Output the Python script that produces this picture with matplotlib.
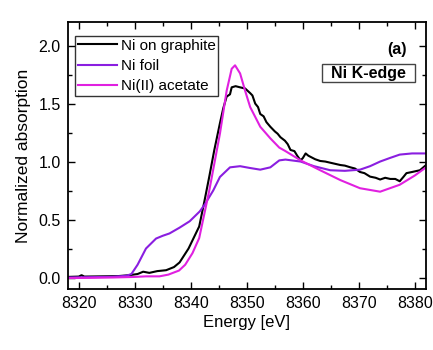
import numpy as np
import matplotlib.pyplot as plt
from matplotlib.patches import Rectangle

plt.rcParams['font.family'] = ['Liberation Sans', 'DejaVu Sans']

# energies (eV) and normalized absorption
e_graphite = [8318, 8320, 8320.5, 8321, 8324, 8327, 8329, 8330.5, 8331.5, 8332.6,
              8334, 8335.6, 8337, 8338, 8338.8, 8339.6, 8340.3, 8341.5, 8342.4,
              8343.3, 8344.2, 8345.2, 8345.8, 8346.4, 8347.0, 8347.3, 8348.0,
              8348.8, 8349.7, 8350.6, 8351.0, 8351.5, 8352.0, 8352.4, 8353.0,
              8353.5, 8354.2, 8355.0, 8355.5, 8356.0, 8356.8, 8357.3, 8357.8,
              8358.5, 8359.0, 8359.6, 8360.0, 8360.5, 8361.0, 8361.4, 8362.2,
              8363.1, 8364.0, 8364.9, 8365.8, 8366.7, 8367.5, 8368.5, 8369.3,
              8370.2, 8371.0, 8372.0, 8373.0, 8373.8, 8374.7, 8375.6, 8376.5,
              8377.3, 8378.0, 8378.5, 8379.5, 8380.9, 8382]
a_graphite = [0.005, 0.008, 0.02, 0.008, 0.01, 0.012, 0.02, 0.03, 0.05, 0.04,
              0.055, 0.063, 0.09, 0.13, 0.19, 0.25, 0.32, 0.44, 0.65,
              0.87, 1.1, 1.33, 1.46, 1.56, 1.58, 1.64, 1.65,
              1.64, 1.63, 1.59, 1.57, 1.50, 1.47, 1.41, 1.39,
              1.34, 1.30, 1.26, 1.24, 1.21, 1.18, 1.15, 1.10,
              1.09, 1.05, 1.01, 1.03, 1.07, 1.05, 1.04, 1.02,
              1.005, 1.00, 0.99, 0.98, 0.97, 0.965, 0.95, 0.94,
              0.91, 0.90, 0.87, 0.86, 0.845, 0.86, 0.85, 0.85,
              0.83, 0.87, 0.90, 0.91, 0.925, 0.97]

e_foil = [8318, 8322, 8326, 8328.5, 8329.4, 8330.5, 8332, 8333.8, 8335, 8336.2,
          8338, 8339.8, 8341.6, 8342.5, 8344, 8345.2, 8347, 8348.8, 8350.5,
          8352.4, 8354.2, 8355.8, 8356.9, 8359.6, 8362, 8364.9, 8367.5,
          8370.2, 8372, 8373.8, 8375.5, 8377.3, 8379.5, 8382]
a_foil = [0.0, 0.003, 0.006, 0.015, 0.03, 0.11, 0.25, 0.336, 0.36, 0.38,
          0.43, 0.485, 0.57, 0.63, 0.75, 0.867, 0.95, 0.96, 0.945,
          0.93, 0.95, 1.01, 1.017, 1.0, 0.96, 0.925, 0.92,
          0.93, 0.96, 1.0, 1.03, 1.06, 1.07, 1.07]

e_acetate = [8318, 8322, 8326, 8330, 8332, 8334.4, 8336, 8337.9, 8339, 8340.3,
             8341.5, 8343.3, 8345.2, 8346.4, 8347.3, 8347.9, 8348.8, 8349.7,
             8350.6, 8352.4, 8354.2, 8355.8, 8356.9, 8359.6, 8363.1, 8366.7,
             8370.2, 8373.8, 8377.3, 8380, 8382]
a_acetate = [-0.005, -0.003, 0.0, 0.005, 0.01, 0.01, 0.025, 0.06, 0.11, 0.21,
             0.34, 0.75, 1.24, 1.61, 1.80, 1.83, 1.76, 1.61,
             1.47, 1.30, 1.20, 1.12, 1.09, 1.01, 0.925, 0.84,
             0.77, 0.74, 0.80, 0.88, 0.95]

fig = plt.figure(figsize=(4.33, 3.5), dpi=100)
ax = fig.add_axes([0.156, 0.174, 0.828, 0.762])

ax.plot(e_graphite, a_graphite, color='black', lw=1.5, label='Ni on graphite')
ax.plot(e_foil, a_foil, color='#8a1ee0', lw=1.5, label='Ni foil')
ax.plot(e_acetate, a_acetate, color='#e020e0', lw=1.5, label='Ni(II) acetate')

ax.set_xticks(np.arange(8320, 8381, 10))
ax.set_xticks(np.arange(8315, 8382, 5), minor=True)
ax.set_yticks(np.arange(0, 2.01, 0.5))
ax.set_yticks(np.arange(-0.25, 2.2, 0.25), minor=True)
ax.set_xlim(8318, 8382)
ax.set_ylim(-0.1, 2.2)
ax.yaxis.set_major_formatter(plt.FuncFormatter(lambda v, p: f'{v:.1f}'))
ax.tick_params(which='both', direction='in', top=True, right=True, labelsize=11.5, width=1)
ax.tick_params(which='major', length=5, pad=5)
ax.tick_params(which='minor', length=3)
for s in ax.spines.values():
    s.set_linewidth(1.3)

ax.set_xlabel('Energy [eV]', fontsize=12, labelpad=3)
ax.set_ylabel('Normalized absorption', fontsize=12.5, labelpad=5)

leg = ax.legend(loc='upper left', bbox_to_anchor=(0.022, 0.95), borderaxespad=0,
                fontsize=11, frameon=True, fancybox=False,
                edgecolor='black', handlelength=2.5, handletextpad=0.25,
                borderpad=0.2, labelspacing=0.4)
leg.get_frame().set_linewidth(1)

ax.text(0.947, 0.898, '(a)', transform=ax.transAxes, ha='right', va='center',
        fontsize=11.5, fontweight='bold')
ax.add_patch(Rectangle((0.709, 0.775), 0.26, 0.068, transform=ax.transAxes,
                       facecolor='white', edgecolor='#444444', lw=1, zorder=4))
ax.text(0.839, 0.808, 'Ni K-edge', transform=ax.transAxes, ha='center', va='center',
        fontsize=11.5, fontweight='bold', zorder=5)

fig.savefig('out.png', dpi=100)
